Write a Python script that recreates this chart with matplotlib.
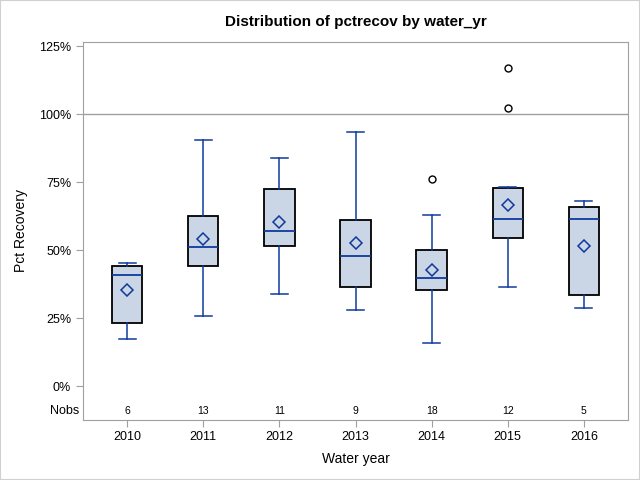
import matplotlib
matplotlib.use('Agg')
import matplotlib.pyplot as plt
from matplotlib.ticker import FuncFormatter

plt.rcParams['font.family'] = ['Liberation Sans', 'DejaVu Sans']

years = ['2010', '2011', '2012', '2013', '2014', '2015', '2016']
nobs = [6, 13, 11, 9, 18, 12, 5]
whislo = [17.2, 25.7, 33.7, 27.9, 15.7, 36.3, 28.7]
q1 = [23.2, 44.0, 51.4, 36.3, 35.5, 54.3, 33.3]
med = [40.7, 51.3, 57.2, 47.7, 39.6, 61.3, 61.3]
q3 = [44.0, 62.6, 72.3, 60.9, 50.2, 72.7, 65.7]
whishi = [45.1, 90.4, 83.7, 93.4, 62.9, 73.2, 67.9]
means = [35.2, 53.9, 60.3, 52.5, 42.6, 66.4, 51.4]
outliers = [[], [], [], [], [76.1], [116.8, 102.1], []]

blue = '#0f3a9c'
gray = '#a0a0a0'

stats = []
for i in range(len(years)):
    stats.append({'label': years[i], 'whislo': whislo[i], 'q1': q1[i], 'med': med[i],
                  'q3': q3[i], 'whishi': whishi[i], 'mean': means[i], 'fliers': outliers[i]})

fig = plt.figure(figsize=(6.4, 4.8), dpi=100)
ax = fig.add_axes([83 / 640, 1 - 419.5 / 480, 545 / 640, (419.5 - 41.5) / 480])

ax.axhline(100, color=gray, lw=1, zorder=1)

ax.bxp(stats, positions=range(len(years)), widths=0.4, patch_artist=True,
       showmeans=True, showfliers=True,
       boxprops=dict(facecolor='#cad5e5', edgecolor='black', linewidth=1.3),
       medianprops=dict(color=blue, linewidth=1.3),
       whiskerprops=dict(color=blue, linewidth=1.1),
       capprops=dict(color=blue, linewidth=1.1),
       capwidths=0.22,
       meanprops=dict(marker='D', markerfacecolor='none', markeredgecolor=blue,
                      markersize=6.5, markeredgewidth=1.1),
       flierprops=dict(marker='o', markerfacecolor='none', markeredgecolor='black',
                       markersize=5, markeredgewidth=1.0))

for i, n in enumerate(nobs):
    ax.text(i, -9.3, str(n), ha='center', va='center', fontsize=7.5)
ax.text(-0.007, -9.3, 'Nobs', ha='right', va='center', fontsize=9,
        transform=ax.get_yaxis_transform())

ax.set_xlim(-0.58, 6.58)
ax.set_ylim(-12.3, 126.7)
ax.set_yticks([0, 25, 50, 75, 100, 125])
ax.yaxis.set_major_formatter(FuncFormatter(lambda v, p: f'{v:.0f}%'))
ax.set_xticks(range(len(years)))
ax.set_xticklabels(years)

for s in ax.spines.values():
    s.set_color(gray)
ax.tick_params(colors=gray, labelcolor='black', labelsize=9, length=5)

ax.set_xlabel('Water year', fontsize=10, labelpad=6)
ax.set_ylabel('Pct Recovery', fontsize=10, labelpad=8)
ax.set_title('Distribution of pctrecov by water_yr', fontsize=11, fontweight='bold', pad=11)

fig.patches.append(plt.Rectangle((0, 0), 1, 1, transform=fig.transFigure, fill=False,
                                 edgecolor='#d0d0d0', linewidth=1.5))

fig.savefig('out.png', dpi=100)
